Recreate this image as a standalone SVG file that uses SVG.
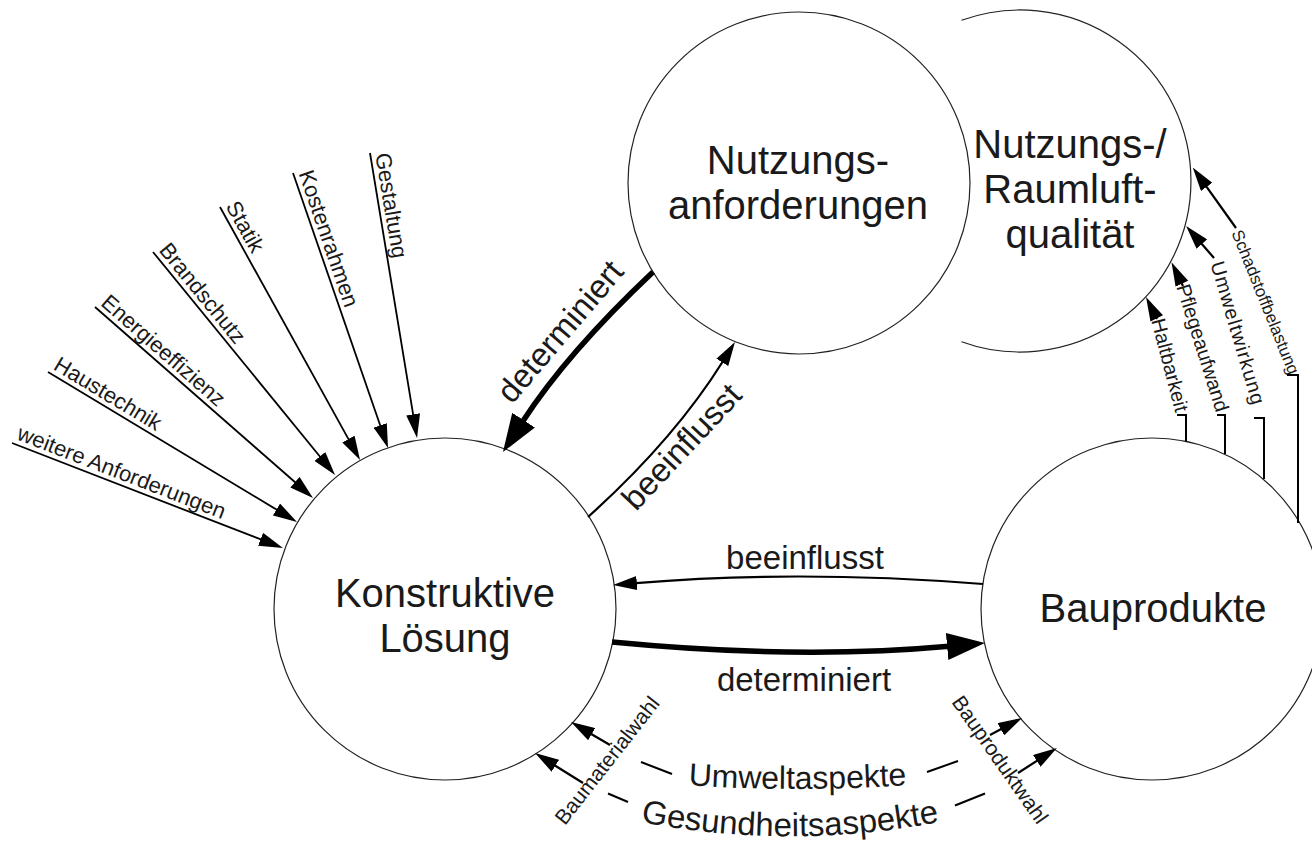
<svg xmlns="http://www.w3.org/2000/svg" width="1312" height="845" viewBox="0 0 1312 845">
<defs>
<style>
.circ{fill:none;stroke:#222;stroke-width:1.2}
.thin{fill:none;stroke:#000;stroke-width:2.2;marker-end:url(#ah)}
.line{fill:none;stroke:#000;stroke-width:2}
.ray{fill:none;stroke:#000;stroke-width:1.8;marker-end:url(#ah)}
.thick{fill:none;stroke:#000;stroke-width:5.5;marker-end:url(#ahb)}
text{font-family:"Liberation Sans",Arial,Helvetica,sans-serif;fill:#1a1a1a}
.node{font-size:40px;text-anchor:middle}
.el{font-size:33px;text-anchor:middle}
.sl{font-size:22px}
.rl{font-size:20px}
.bl{font-size:21px}
</style>
<marker id="ah" markerUnits="userSpaceOnUse" markerWidth="24" markerHeight="14" viewBox="0 0 24 14" refX="1" refY="7" orient="auto"><path d="M0,0 L24,7 L0,14 z" fill="#000"/></marker>
<marker id="ahb" markerUnits="userSpaceOnUse" markerWidth="38" markerHeight="27" viewBox="0 0 38 27" refX="2" refY="13.5" orient="auto"><path d="M0,0 L38,13.5 L0,27 z" fill="#000"/></marker>
<path id="umwPath" d="M660,783 A1600 1600 0 0 0 935,783"/>
<path id="gesPath" d="M622,818 A780 780 0 0 0 958,818"/>
</defs>
<rect width="1312" height="845" fill="#fff"/>

<g id="node-konstruktive">
<circle class="circ" cx="445" cy="609" r="171"/>
<text class="node" x="445" y="607">Konstruktive</text>
<text class="node" x="445" y="652">Lösung</text>
</g>

<g id="node-bauprodukte">
<circle class="circ" cx="1152" cy="609" r="171"/>
<text class="node" x="1153" y="622">Bauprodukte</text>
</g>

<g id="node-nutzungsanforderungen">
<circle class="circ" cx="799" cy="183" r="171"/>
<text class="node" x="798" y="174">Nutzungs-</text>
<text class="node" x="798" y="219">anforderungen</text>
</g>

<g id="node-raumluftqualitaet">
<path class="circ" d="M961.5,20.3 A171 171 0 1 1 961.5,341.7"/>
<text class="node" x="1070" y="158">Nutzungs-/</text>
<text class="node" x="1070" y="203">Raumluft-</text>
<text class="node" x="1070" y="248">qualität</text>
</g>

<g id="connectors">
<!-- incoming requirements -->
<path class="ray" d="M370,153 L413.3,415.3"/>
<path class="ray" d="M293,173 L380.5,426.3"/>
<path class="ray" d="M220,207 L348.9,439.9"/>
<path class="ray" d="M153,252 L320.5,457.2"/>
<path class="ray" d="M95,307 L295.7,482.8"/>
<path class="ray" d="M48,372 L277.3,510.1"/>
<path class="ray" d="M12,443 L261.5,539.7"/>
<text class="sl" transform="translate(370,153) rotate(80.6)" x="2" y="-5">Gestaltung</text>
<text class="sl" transform="translate(293,173) rotate(71)" x="2" y="-5">Kostenrahmen</text>
<text class="sl" transform="translate(220,207) rotate(61)" x="2" y="-5">Statik</text>
<text class="sl" transform="translate(153,252) rotate(50.8)" x="2" y="-5">Brandschutz</text>
<text class="sl" transform="translate(95,307) rotate(41.2)" x="2" y="-5">Energieeffizienz</text>
<text class="sl" transform="translate(48,372) rotate(31.1)" x="2" y="-5">Haustechnik</text>
<text class="sl" transform="translate(12,443) rotate(21.2)" x="2" y="-5">weitere Anforderungen</text>

<!-- Nutzungsanforderungen <-> Konstruktive Lösung -->
<path class="thick" d="M653,272 Q567,353 522.5,421.8"/>
<text class="el" style="text-anchor:start" transform="translate(512,405) rotate(-49.5)">determiniert</text>
<path class="thin" d="M588,517 Q673.8,439.8 722.8,361.5"/>
<text class="el" style="text-anchor:start" transform="translate(636,512) rotate(-47)">beeinflusst</text>

<!-- Bauprodukte <-> Konstruktive Lösung -->
<path class="thin" d="M983,584 Q798,569.5 635.9,583.1"/>
<text class="el" x="805" y="569">beeinflusst</text>
<path class="thick" d="M612,642 Q798,660 949.1,646.3"/>
<text class="el" x="804" y="691">determiniert</text>

<!-- Umweltaspekte -->
<path class="thin" d="M610,745 L590.8,733.7"/>
<path class="line" d="M641,762 L672,774"/>
<path class="line" d="M927,772 L958,761"/>
<path class="thin" d="M990,735 L1001.7,728.8"/>
<text style="font-size:32px"><textPath href="#umwPath" startOffset="50%" text-anchor="middle">Umweltaspekte</textPath></text>

<!-- Gesundheitsaspekte -->
<path class="thin" d="M583,783 L554.5,765.2"/>
<path class="line" d="M608,793.5 L628,802"/>
<path class="line" d="M955,805.5 L985,793.5"/>
<path class="thin" d="M1018,773 L1037.6,760.4"/>
<text style="font-size:33px"><textPath href="#gesPath" startOffset="50%" text-anchor="middle">Gesundheitsaspekte</textPath></text>

<text class="bl" transform="translate(565,826) rotate(-52)">Baumaterialwahl</text>
<text class="bl" transform="translate(951,702) rotate(55)">Bauproduktwahl</text>

<!-- Bauprodukte -> Nutzungs-/Raumluftqualität -->
<path class="thin" d="M1157,319 L1156.3,317.6"/>
<text class="rl" transform="translate(1157,319) rotate(75.4)" y="6">Haltbarkeit</text>
<path class="line" d="M1177,415 H1186 V441.5"/>

<path class="thin" d="M1183,286 L1181.5,282.9"/>
<text class="rl" transform="translate(1182,285) rotate(72.5)" y="6">Pflegeaufwand</text>
<path class="line" d="M1217,415 H1225 V454"/>

<path class="thin" d="M1214,258 L1201.2,243.3"/>
<text class="rl" transform="translate(1216,262) rotate(73.5)" y="6" textLength="148" lengthAdjust="spacing">Umweltwirkung</text>
<path class="line" d="M1254,418 H1264 V479"/>

<path class="thin" d="M1236,228 L1206.1,186.1"/>
<text class="rl" style="font-size:17px" transform="translate(1236,231) rotate(68)" y="5">Schadstoffbelastung</text>
<path class="line" d="M1287,375 H1298 V523"/>
</g>
</svg>
